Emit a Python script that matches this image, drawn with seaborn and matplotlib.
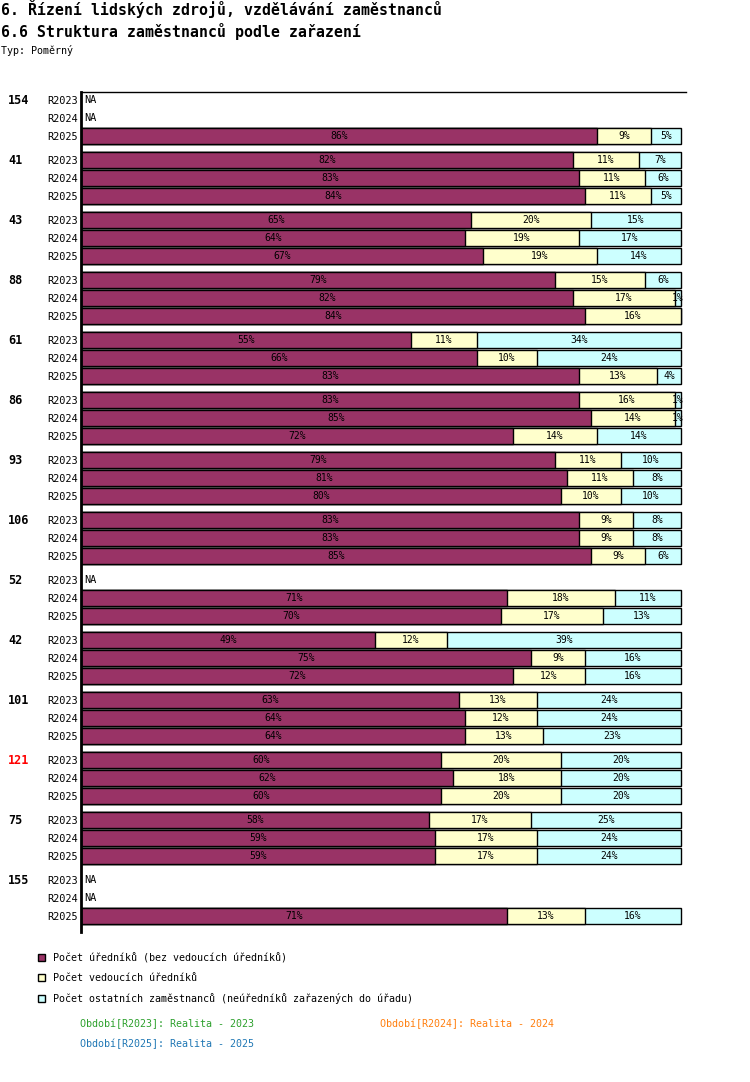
import numpy as np
import pandas as pd
import matplotlib
matplotlib.use("Agg")
import matplotlib.pyplot as plt
from matplotlib.patches import Patch
import seaborn as sns

# --- data ---
groups = ["154", "41", "43", "88", "61", "86", "93", "106", "52", "42", "101", "121", "75", "155"]
periods = ["R2023", "R2024", "R2025"]

# per group: R2023, R2024, R2025 (None = NA)
urednici = [None, None, 86, 82, 83, 84, 65, 64, 67, 79, 82, 84, 55, 66, 83,
            83, 85, 72, 79, 81, 80, 83, 83, 85, None, 71, 70, 49, 75, 72,
            63, 64, 64, 60, 62, 60, 58, 59, 59, None, None, 71]
vedouci = [None, None, 9, 11, 11, 11, 20, 19, 19, 15, 17, 16, 11, 10, 13,
           16, 14, 14, 11, 11, 10, 9, 9, 9, None, 18, 17, 12, 9, 12,
           13, 12, 13, 20, 18, 20, 17, 17, 17, None, None, 13]
ostatni = [None, None, 5, 7, 6, 5, 15, 17, 14, 6, 1, 0, 34, 24, 4,
           1, 1, 14, 10, 8, 10, 8, 8, 6, None, 11, 13, 39, 16, 16,
           24, 24, 23, 20, 20, 20, 25, 24, 24, None, None, 16]

series_names = ["Počet úředníků (bez vedoucích úředníků)",
                "Počet vedoucích úředníků",
                "Počet ostatních zaměstnanců (neúředníků zařazených do úřadu)"]
period_texts = ["Období[R2023]: Realita - 2023",
                "Období[R2024]: Realita - 2024",
                "Období[R2025]: Realita - 2025"]
highlight = "121"

C_PURPLE = "#993366"
C_YELLOW = "#ffffcc"
C_CYAN = "#ccffff"
PERIOD_COLORS = ["#2ca02c", "#ff7f0e", "#1f77b4"]

MONO = ["DejaVu Sans Mono"]

# row positions in pixel-like units (18 per row, 60 per group)
rows = []
for gi, g in enumerate(groups):
    for pi, p in enumerate(periods):
        k = gi * 3 + pi
        rows.append(dict(group=g, period=p, pos=100 + gi * 60 + pi * 18,
                         s1=urednici[k], s2=vedouci[k], s3=ostatni[k]))
df = pd.DataFrame(rows)
valid = df.dropna(subset=["s1"]).copy()
valid["c2"] = valid["s1"] + valid["s2"]
valid["c3"] = valid["c2"] + valid["s3"]

sns.set_style("white")
plt.rcParams["font.family"] = MONO
plt.rcParams["text.color"] = "black"
plt.rcParams["ytick.color"] = "black"
plt.rcParams["xtick.color"] = "black"

W, H = 750, 1082
fig = plt.figure(figsize=(W / 100, H / 100), dpi=100)
ax_l, ax_r, ax_t, ax_b = 81, 686, 92, 932
ax = fig.add_axes([ax_l / W, 1 - ax_b / H, (ax_r - ax_l) / W, (ax_b - ax_t) / H])

common = dict(y="pos", orient="h", native_scale=True, errorbar=None, saturation=1,
              edgecolor="black", linewidth=1, width=0.86, ax=ax)
sns.barplot(data=valid, x="c3", color=C_CYAN, **common)
sns.barplot(data=valid, x="c2", color=C_YELLOW, **common)
sns.barplot(data=valid, x="s1", color=C_PURPLE, **common)

ax.set_xlim(0, 100 * (ax_r - ax_l) / 600)
ax.set_ylim(ax_b, ax_t)
ax.set_xlabel("")
ax.set_ylabel("")
ax.set_xticks([])
ax.set_yticks(df["pos"])
ax.set_yticklabels(df["period"], fontsize=7.4)
ax.tick_params(axis="y", length=0, pad=2)
for s in ["right", "bottom"]:
    ax.spines[s].set_visible(False)
ax.spines["left"].set_linewidth(2)
ax.spines["top"].set_linewidth(1)
for s in ax.spines.values():
    s.set_color("black")

# segment labels
for _, r in valid.iterrows():
    left = 0
    for v in (r["s1"], r["s2"], r["s3"]):
        if v > 0:
            ax.text(left + v / 2, r["pos"], f"{int(v)}%", ha="center", va="center",
                    fontsize=7, color="black")
        left += v

# NA rows
for _, r in df[df["s1"].isna()].iterrows():
    ax.text(0.5, r["pos"], "NA", ha="left", va="center", fontsize=7.4)

# group labels
trans = ax.get_yaxis_transform()
for gi, g in enumerate(groups):
    ax.text(-(ax_l - 8) / (ax_r - ax_l), 100 + gi * 60, g, transform=trans,
            ha="left", va="center", fontsize=8.5, fontweight="bold",
            color="red" if g == highlight else "black", clip_on=False)

# titles
fig.text(1 / W, 1 - 9 / H, "6. Řízení lidských zdrojů, vzdělávání zaměstnanců",
         fontsize=10.7, fontweight="bold", ha="left", va="center")
fig.text(1 / W, 1 - 31 / H, "6.6 Struktura zaměstnanců podle zařazení",
         fontsize=10.7, fontweight="bold", ha="left", va="center")
fig.text(1 / W, 1 - 51 / H, "Typ: Poměrný", fontsize=7.2, ha="left", va="center")

# legend
handles = [Patch(facecolor=c, edgecolor="black", linewidth=1)
           for c in (C_PURPLE, C_YELLOW, C_CYAN)]
fig.legend(handles, series_names, loc="upper left",
           bbox_to_anchor=(38 / W, 1 - 953 / H), frameon=False,
           fontsize=7.2, handlelength=0.7, handleheight=0.7,
           handletextpad=0.8, labelspacing=1.0, borderaxespad=0, borderpad=0,
           labelcolor="black")

fig.text(80 / W, 1 - 1024 / H, period_texts[0], color=PERIOD_COLORS[0],
         fontsize=7.2, ha="left", va="center")
fig.text(380 / W, 1 - 1024 / H, period_texts[1], color=PERIOD_COLORS[1],
         fontsize=7.2, ha="left", va="center")
fig.text(80 / W, 1 - 1044 / H, period_texts[2], color=PERIOD_COLORS[2],
         fontsize=7.2, ha="left", va="center")

fig.savefig("out.png", dpi=100)
